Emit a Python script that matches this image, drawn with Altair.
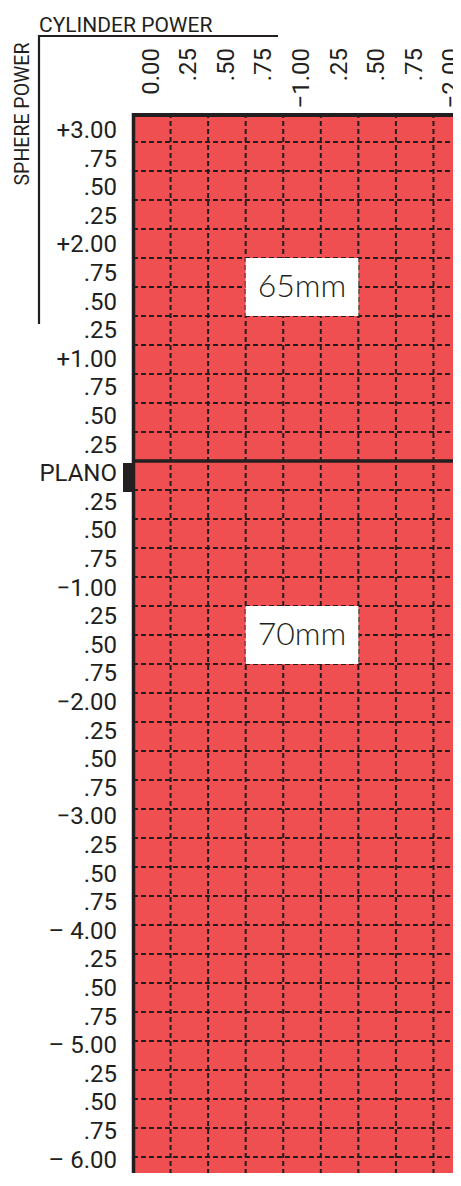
import altair as alt
import pandas as pd

# ---- data ----
cyl_labels = ["0.00", ".25", ".50", ".75", "\u22121.00", ".25", ".50", ".75", "\u22122.00"]
sph_labels = ["+3.00", ".75", ".50", ".25", "+2.00", ".75", ".50", ".25",
              "+1.00", ".75", ".50", ".25", "PLANO", ".25", ".50", ".75",
              "\u22121.00", ".25", ".50", ".75", "\u22122.00", ".25", ".50", ".75",
              "\u22123.00", ".25", ".50", ".75", "\u2013 4.00", ".25", ".50", ".75",
              "\u2013 5.00", ".25", ".50", ".75", "\u2013 6.00"]
zone_labels = ["65mm", "70mm"]
zone_row_start = [5, 17]
zone_row_end = [7, 19]
zone_col_start = [3, 3]
zone_col_end = [6, 6]
plano_row = 12

n_cols = len(cyl_labels)
n_rows = len(sph_labels)

# ---- style / layout ----
CELL = "#EF4F51"
INK = "#231F20"
LABEL_FONT = "Roboto, Liberation Sans, sans-serif"
ZONE_FONT = "Lato, Noto Sans, sans-serif"
COL_W = 37.56
ROW_H = 29.0
W = 320
H = 1060

cells = pd.DataFrame([{"col": c, "row": r} for r in range(n_rows) for c in range(n_cols)])
cells["col_end"] = cells["col"] + 1
cells["row_end"] = cells["row"] + 1

vlines = pd.DataFrame({"col": list(range(1, n_cols + 1))})
hlines = pd.DataFrame({"row": list(range(1, n_rows + 1))})
cyl_df = pd.DataFrame({"col": list(range(n_cols)), "label": cyl_labels})
cyl_df["pos"] = cyl_df["col"] + 0.5
sph_df = pd.DataFrame({"row": list(range(n_rows)), "label": sph_labels})
zones = pd.DataFrame({"label": zone_labels, "r0": zone_row_start, "r1": zone_row_end,
                      "c0": zone_col_start, "c1": zone_col_end})
zones["rm"] = (zones["r0"] + zones["r1"]) / 2
zones["cm"] = (zones["c0"] + zones["c1"]) / 2
plano_df = pd.DataFrame({"row": [plano_row], "row_end": [plano_row + 1]})
one = pd.DataFrame({"k": [0]})

xs = alt.Scale(domain=[0, W / COL_W], nice=False, zero=False)
ys = alt.Scale(domain=[0, H / ROW_H], nice=False, zero=False, reverse=True)
LAB_H = 28.6
lab0 = -18.0 / LAB_H
ys_lab = alt.Scale(domain=[lab0, lab0 + H / LAB_H], nice=False, zero=False, reverse=True)

cell_layer = alt.Chart(cells).mark_rect(color=CELL, stroke=CELL, strokeWidth=0.5, clip=True).encode(
    x=alt.X("col:Q", scale=xs, axis=None), x2="col_end:Q",
    y=alt.Y("row:Q", scale=ys, axis=None), y2="row_end:Q")

vline_layer = alt.Chart(vlines).mark_rule(color=INK, strokeWidth=2, strokeDash=[5, 3], clip=True).encode(
    x=alt.X("col:Q", scale=xs, axis=None), y=alt.value(0), y2=alt.value(H))

hline_layer = alt.Chart(hlines).mark_rule(color=INK, strokeWidth=2, strokeDash=[5, 3], clip=True).encode(
    y=alt.Y("row:Q", scale=ys, axis=None), x=alt.value(0), x2=alt.value(W))

zone_box = alt.Chart(zones).mark_rect(color="white").encode(
    x=alt.X("c0:Q", scale=xs, axis=None), x2="c1:Q",
    y=alt.Y("r0:Q", scale=ys, axis=None), y2="r1:Q")

zone_text = alt.Chart(zones).mark_text(font=ZONE_FONT, fontSize=32, fontWeight=300, color=INK,
                                       align="center", baseline="middle").encode(
    x=alt.X("cm:Q", scale=xs, axis=None),
    y=alt.Y("rm:Q", scale=ys, axis=None), text="label:N")

plano_line = alt.Chart(plano_df).mark_rule(color=INK, strokeWidth=3.5).encode(
    y=alt.Y("row:Q", scale=ys, axis=None), x=alt.value(0), x2=alt.value(W))

plano_marker = alt.Chart(plano_df).mark_rect(color=INK, yOffset=2, y2Offset=2).encode(
    y=alt.Y("row:Q", scale=ys, axis=None), y2="row_end:Q",
    x=alt.value(-10), x2=alt.value(0))

top_border = alt.Chart(one).mark_rule(color=INK, strokeWidth=4).encode(
    y=alt.value(2), x=alt.value(0), x2=alt.value(W))
left_border = alt.Chart(one).mark_rule(color=INK, strokeWidth=3.5).encode(
    x=alt.value(0.5), y=alt.value(0), y2=alt.value(H))

cyl_text = alt.Chart(cyl_df).mark_text(font=LABEL_FONT, fontSize=24, fontWeight=400, color=INK,
                                       angle=270, align="right", baseline="middle").encode(
    x=alt.X("pos:Q", scale=xs, axis=None), y=alt.value(-65), text="label:N")

sph_text = alt.Chart(sph_df).mark_text(font=LABEL_FONT, fontSize=24, fontWeight=400, color=INK,
                                       align="right", baseline="middle").encode(
    y=alt.Y("row:Q", scale=ys_lab, axis=None), x=alt.value(-16), text="label:N")

cyl_title = alt.Chart(one).mark_text(font=LABEL_FONT, fontSize=21, fontWeight=400, color=INK,
                                     align="left", baseline="alphabetic").encode(
    x=alt.value(-94), y=alt.value(-81), text=alt.value("CYLINDER POWER"))
sph_title = alt.Chart(one).mark_text(font=LABEL_FONT, fontSize=19.5, fontWeight=400, color=INK,
                                     angle=270, align="center", baseline="middle").encode(
    x=alt.value(-110), y=alt.value(1), text=alt.value("SPHERE POWER"))
hbar = alt.Chart(one).mark_rule(color=INK, strokeWidth=2.2).encode(
    y=alt.value(-77), x=alt.value(-95), x2=alt.value(145))
vbar = alt.Chart(one).mark_rule(color=INK, strokeWidth=2.2).encode(
    x=alt.value(-94), y=alt.value(-78), y2=alt.value(211))

chart = alt.layer(
    cell_layer, vline_layer, hline_layer, zone_box, zone_text, plano_line,
    plano_marker, top_border, left_border, cyl_text, sph_text,
    cyl_title, sph_title, hbar, vbar
).resolve_scale(y="independent").properties(
    width=W, height=H,
    autosize=alt.AutoSizeParams(type="none"),
    padding={"left": 125, "top": 105, "right": 0, "bottom": 0},
    background="white",
).configure_view(strokeWidth=0)

chart.save("out.html", embed_options={"renderer": "svg", "actions": False})
